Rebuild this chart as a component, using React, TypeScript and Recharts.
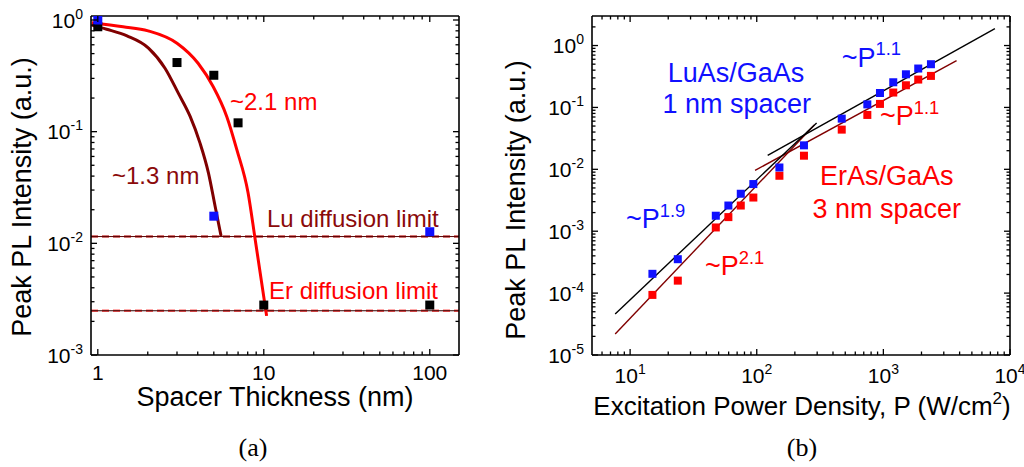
import React from 'react';
import { ComposedChart, Scatter, Line, XAxis, YAxis, ReferenceLine } from 'recharts';

const FONT = '"Liberation Sans", Arial, Helvetica, sans-serif';
const BLUE = '#1010ff';
const RED = '#ff0000';
const DARKRED = '#8b0a0a';

// ---------- Panel (a): PL intensity vs spacer thickness ----------
const thicknessLu = [1, 5, 100];
const intensityLu = [1.0, 0.0175, 0.0127];
const thicknessEr = [1, 3, 5, 7, 10, 100];
const intensityEr = [0.87, 0.416, 0.32, 0.12, 0.0028, 0.0028];
const fitErX = [0.92, 1.42, 2.01, 3.0, 4.02, 4.95, 5.98, 6.88, 8.04, 8.87, 10.4];
const fitErY = [0.946, 0.87, 0.8, 0.62, 0.41, 0.254, 0.137, 0.069, 0.0284, 0.0109, 0.00224];
const fitLuX = [0.92, 1.13, 1.5, 2.02, 2.54, 3.06, 3.6, 4.13, 4.64, 5.09, 5.53];
const fitLuY = [0.9, 0.826, 0.72, 0.56, 0.37, 0.22, 0.137, 0.079, 0.0428, 0.0215, 0.0116];
const luLimit = 0.0115;
const erLimit = 0.00249;
const domainAX = [0.91, 150];
const domainAY = [0.001, 1.086];

// ---------- Panel (b): PL intensity vs excitation power ----------
const power = [15, 23.8, 47.5, 59.7, 74.8, 94, 151, 236, 469, 747, 940, 1197, 1507, 1885, 2375];
const plLu = [2.05e-4, 3.53e-4, 1.78e-3, 2.6e-3, 4.03e-3, 5.78e-3, 1.07e-2, 2.44e-2, 6.59e-2, 0.112, 0.171, 0.255, 0.343, 0.425, 0.499];
const plEr = [9.35e-5, 1.59e-4, 1.15e-3, 1.69e-3, 2.6e-3, 3.5e-3, 7.87e-3, 1.66e-2, 4.38e-2, 7.56e-2, 0.114, 0.174, 0.228, 0.282, 0.323];
const fitLuLowX = [7.62, 297];
const fitLuLowY = [4.6e-5, 0.0561];
const fitErLowX = [7.62, 285];
const fitErLowY = [2.19e-5, 0.052];
const fitLuHighX = [122, 7600];
const fitLuHighY = [0.0168, 1.88];
const fitErHighX = [97, 3785];
const fitErHighY = [0.0096, 0.572];
const domainBX = [5, 10000];
const domainBY = [1e-5, 3];

const pts = (xs: number[], ys: number[]) => xs.map((x, i) => ({ x, y: ys[i] }));

function decadeTicks(minExp: number, maxExp: number, lo: number, hi: number) {
  const out: number[] = [];
  for (let e = minExp; e <= maxExp; e++) {
    for (let m = 1; m <= 9; m++) {
      const v = Number((m * Math.pow(10, e)).toPrecision(6));
      if (v >= lo && v <= hi) out.push(v);
    }
  }
  return out;
}
const ticksAX = decadeTicks(0, 2, 0.95, 150);
const ticksAY = decadeTicks(-3, 0, 0.001, 1.0);
const ticksBX = decadeTicks(0, 4, 5.5, 10000);
const ticksBY = decadeTicks(-5, 0, 1e-5, 2.5);

const isMajor = (v: number) => Math.abs(Math.log10(v) - Math.round(Math.log10(v))) < 1e-6;
const expOf = (v: number) => Math.round(Math.log10(v));

type Side = 'bottom' | 'top' | 'left' | 'right';
type LabelFn = (x: number, y: number, v: number) => React.ReactNode;

function makeTick(side: Side, labelFn?: LabelFn) {
  return (props: any) => {
    const { x, y, payload } = props;
    const v = payload.value as number;
    const major = isMajor(v);
    const len = major ? 6 : 3.5;
    let line: React.ReactNode = null;
    if (side === 'bottom') line = <line x1={x} x2={x} y1={y} y2={y - len} stroke="#000" strokeWidth={1.3} />;
    if (side === 'top') line = <line x1={x} x2={x} y1={y} y2={y + len} stroke="#000" strokeWidth={1.3} />;
    if (side === 'left') line = <line x1={x} x2={x + len} y1={y} y2={y} stroke="#000" strokeWidth={1.3} />;
    if (side === 'right') line = <line x1={x} x2={x - len} y1={y} y2={y} stroke="#000" strokeWidth={1.3} />;
    return (
      <g>
        {line}
        {major && labelFn ? labelFn(x, y, v) : null}
      </g>
    );
  };
}

const plainXLabel: LabelFn = (x, y, v) => (
  <text x={x} y={y + 25} textAnchor="middle" fontFamily={FONT} fontSize={21} fill="#000">
    {String(v)}
  </text>
);
const powXLabel: LabelFn = (x, y, v) => (
  <text x={x} y={y + 28} textAnchor="middle" fontFamily={FONT} fontSize={21} fill="#000">
    10<tspan dy={-9} fontSize={14}>{String(expOf(v))}</tspan>
  </text>
);
const powYLabel: LabelFn = (x, y, v) => (
  <text x={x - 8} y={y + 7.5} textAnchor="end" fontFamily={FONT} fontSize={21} fill="#000">
    10<tspan dy={-9} fontSize={14}>{String(expOf(v))}</tspan>
  </text>
);

const square = (fill: string, s: number) => (p: any) =>
  p.cx == null || p.cy == null ? <g /> : <rect x={p.cx - s / 2} y={p.cy - s / 2} width={s} height={s} fill={fill} />;

const axisLine = { stroke: '#000', strokeWidth: 1.6 };

const PanelA = () => (
  <ComposedChart width={480} height={467} margin={{ top: 15, right: 20, bottom: 0, left: 0 }}>
    <XAxis dataKey="x" type="number" scale="log" domain={domainAX} allowDataOverflow ticks={ticksAX} interval={0}
      tickSize={0} tickMargin={0} tickLine={false} axisLine={axisLine} height={112} tick={makeTick('bottom', plainXLabel)} />
    <XAxis xAxisId="top" orientation="top" dataKey="x" type="number" scale="log" domain={domainAX} allowDataOverflow ticks={ticksAX} interval={0}
      tickSize={0} tickMargin={0} tickLine={false} axisLine={axisLine} height={1} tick={makeTick('top')} />
    <YAxis dataKey="y" type="number" scale="log" domain={domainAY} allowDataOverflow ticks={ticksAY} interval={0}
      tickSize={0} tickMargin={0} tickLine={false} axisLine={axisLine} width={91} tick={makeTick('left', powYLabel)} />
    <YAxis yAxisId="right" orientation="right" dataKey="y" type="number" scale="log" domain={domainAY} allowDataOverflow ticks={ticksAY} interval={0}
      tickSize={0} tickMargin={0} tickLine={false} axisLine={axisLine} width={1} tick={makeTick('right')} />
    <ReferenceLine y={luLimit} stroke="#c84848" strokeWidth={2.4} strokeDasharray="7 4" />
    <ReferenceLine y={luLimit} stroke="#5a0000" strokeWidth={1} />
    <ReferenceLine y={erLimit} stroke="#ff5a5a" strokeWidth={2.4} strokeDasharray="7 4" />
    <ReferenceLine y={erLimit} stroke="#300000" strokeWidth={1} />
    <Scatter data={pts(thicknessEr, intensityEr)} dataKey="y" shape={square('#000', 9)} isAnimationActive={false} />
    <Line data={pts(fitLuX, fitLuY)} dataKey="y" type="monotone" stroke="#800000" strokeWidth={3} dot={false} isAnimationActive={false} />
    <Line data={pts(fitErX, fitErY)} dataKey="y" type="monotone" stroke={RED} strokeWidth={3} dot={false} isAnimationActive={false} />
    <Scatter data={pts(thicknessLu, intensityLu)} dataKey="y" shape={square(BLUE, 9)} isAnimationActive={false} />
  </ComposedChart>
);

const PanelB = () => (
  <ComposedChart width={524} height={467} margin={{ top: 15, right: 13, bottom: 0, left: 0 }}>
    <XAxis dataKey="x" type="number" scale="log" domain={domainBX} allowDataOverflow ticks={ticksBX} interval={0}
      tickSize={0} tickMargin={0} tickLine={false} axisLine={axisLine} height={112} tick={makeTick('bottom', powXLabel)} />
    <XAxis xAxisId="top" orientation="top" dataKey="x" type="number" scale="log" domain={domainBX} allowDataOverflow ticks={ticksBX} interval={0}
      tickSize={0} tickMargin={0} tickLine={false} axisLine={axisLine} height={1} tick={makeTick('top')} />
    <YAxis dataKey="y" type="number" scale="log" domain={domainBY} allowDataOverflow ticks={ticksBY} interval={0}
      tickSize={0} tickMargin={0} tickLine={false} axisLine={axisLine} width={92} tick={makeTick('left', powYLabel)} />
    <YAxis yAxisId="right" orientation="right" dataKey="y" type="number" scale="log" domain={domainBY} allowDataOverflow ticks={ticksBY} interval={0}
      tickSize={0} tickMargin={0} tickLine={false} axisLine={axisLine} width={1} tick={makeTick('right')} />
    <Scatter data={pts(power, plEr)} dataKey="y" shape={square(RED, 8)} isAnimationActive={false} />
    <Scatter data={pts(power, plLu)} dataKey="y" shape={square(BLUE, 8)} isAnimationActive={false} />
    <Line data={pts(fitErLowX, fitErLowY)} dataKey="y" type="linear" stroke="#800000" strokeWidth={1.4} dot={false} isAnimationActive={false} />
    <Line data={pts(fitErHighX, fitErHighY)} dataKey="y" type="linear" stroke="#800000" strokeWidth={1.4} dot={false} isAnimationActive={false} />
    <Line data={pts(fitLuLowX, fitLuLowY)} dataKey="y" type="linear" stroke="#000" strokeWidth={1.4} dot={false} isAnimationActive={false} />
    <Line data={pts(fitLuHighX, fitLuHighY)} dataKey="y" type="linear" stroke="#000" strokeWidth={1.4} dot={false} isAnimationActive={false} />
  </ComposedChart>
);

const Pow = ({ x, y, base, exp, color, size, anchor = 'start' }: any) => (
  <text x={x} y={y} fill={color} fontFamily={FONT} fontSize={size} textAnchor={anchor}>
    {base}
    <tspan dy={-size * 0.42} fontSize={size * 0.68}>{exp}</tspan>
  </text>
);

const Overlay = () => (
  <svg width={1024} height={467} style={{ position: 'absolute', left: 0, top: 0, pointerEvents: 'none' }}>
    {/* panel (a) titles */}
    <text x={31} y={197} transform="rotate(-90 31 197)" textAnchor="middle" fontFamily={FONT} fontSize={27} fill="#000">
      Peak PL Intensity (a.u.)
    </text>
    <text x={275} y={406} textAnchor="middle" fontFamily={FONT} fontSize={27} fill="#000">Spacer Thickness (nm)</text>
    <text x={253} y={456} textAnchor="middle" fontFamily='"Liberation Serif", "Times New Roman", serif' fontSize={26} fill="#000">(a)</text>
    {/* panel (a) annotations */}
    <text x={230} y={110} fontFamily={FONT} fontSize={24} fill={RED}>~2.1 nm</text>
    <text x={112} y={183.5} fontFamily={FONT} fontSize={24} fill={DARKRED}>~1.3 nm</text>
    <text x={267} y={226.7} fontFamily={FONT} fontSize={24} fill={DARKRED}>Lu diffusion limit</text>
    <text x={269} y={299.3} fontFamily={FONT} fontSize={24} fill={RED}>Er diffusion limit</text>

    {/* panel (b) titles */}
    <text x={525} y={200} transform="rotate(-90 525 200)" textAnchor="middle" fontFamily={FONT} fontSize={27} fill="#000">
      Peak PL Intensity (a.u.)
    </text>
    <text x={802} y={415} textAnchor="middle" fontFamily={FONT} fontSize={26} fill="#000">
      Excitation Power Density, P (W/cm<tspan dy={-11} fontSize={17}>2</tspan><tspan dy={11}>)</tspan>
    </text>
    <text x={802} y={456} textAnchor="middle" fontFamily='"Liberation Serif", "Times New Roman", serif' fontSize={26} fill="#000">(b)</text>
    {/* panel (b) annotations */}
    <text x={736} y={81.7} textAnchor="middle" fontFamily={FONT} fontSize={27} fill={BLUE}>LuAs/GaAs</text>
    <text x={736.7} y={113.3} textAnchor="middle" fontFamily={FONT} fontSize={27} fill={BLUE}>1 nm spacer</text>
    <text x={886.7} y={185} textAnchor="middle" fontFamily={FONT} fontSize={27} fill={RED}>ErAs/GaAs</text>
    <text x={886.7} y={218.3} textAnchor="middle" fontFamily={FONT} fontSize={27} fill={RED}>3 nm spacer</text>
    <Pow x={841.7} y={66.7} base="~P" exp="1.1" color={BLUE} size={27} />
    <Pow x={880} y={125} base="~P" exp="1.1" color={RED} size={27} />
    <Pow x={626} y={228.3} base="~P" exp="1.9" color={BLUE} size={27} />
    <Pow x={705} y={275} base="~P" exp="2.1" color={RED} size={27} />
  </svg>
);

export default function App() {
  return (
    <div style={{ position: 'absolute', left: 0, top: 0, width: 1024, height: 467, background: '#fff', overflow: 'hidden' }}>
      <div style={{ position: 'absolute', left: 0, top: 0 }}>
        <PanelA />
      </div>
      <div style={{ position: 'absolute', left: 500, top: 0 }}>
        <PanelB />
      </div>
      <Overlay />
    </div>
  );
}
